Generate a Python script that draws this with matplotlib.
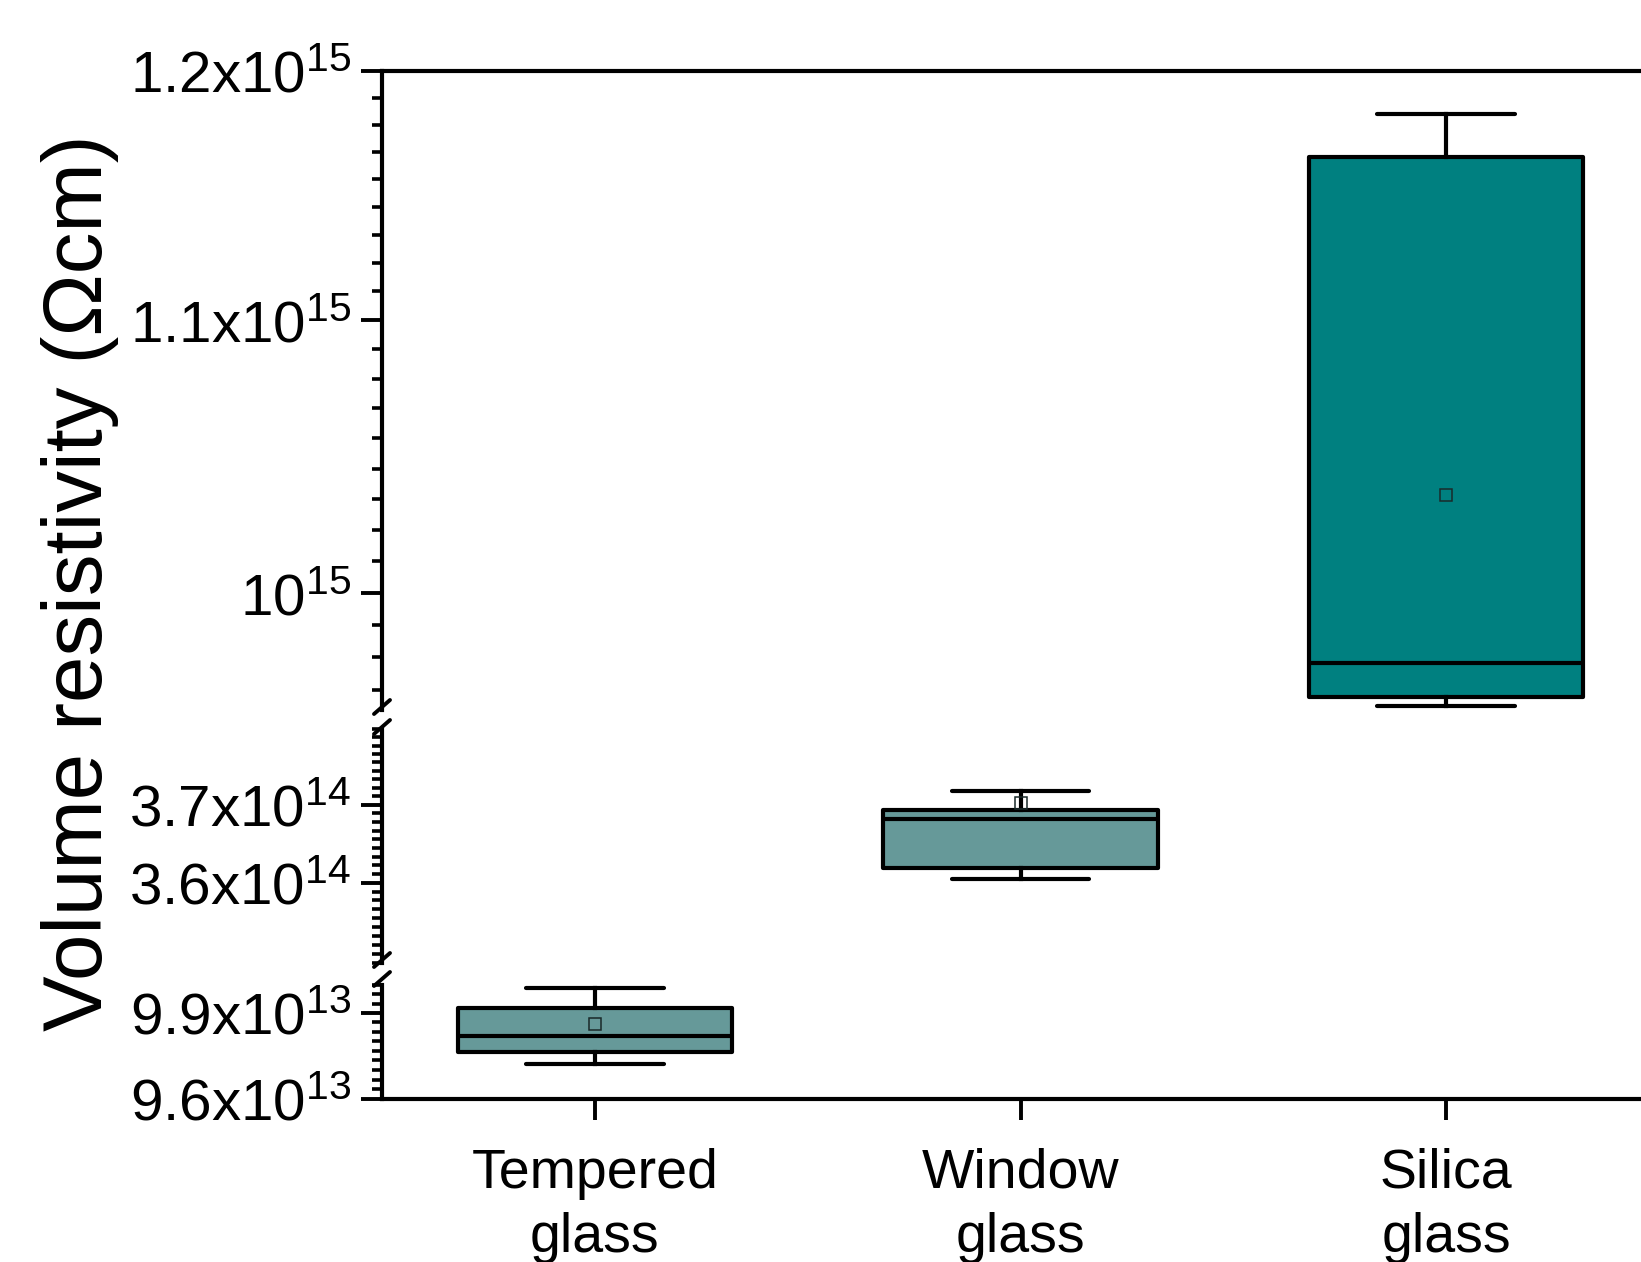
import numpy as np
import matplotlib
matplotlib.use("Agg")
import matplotlib.pyplot as plt
from matplotlib import font_manager
from matplotlib.ticker import FixedLocator, NullFormatter
from matplotlib.lines import Line2D

# box statistics
categories = ["Tempered\nglass", "Window\nglass", "Silica\nglass"]
whislo = [9.721e13, 3.605e14, 9.613e14]
q1 = [9.763e13, 3.619e14, 9.643e14]
med = [9.819e13, 3.682e14, 9.758e14]
q3 = [9.918e13, 3.693e14, 1.1645e15]
whishi = [9.989e13, 3.718e14, 1.182e15]
means = [9.861e13, 3.702e14, 1.0348e15]
fills = ["#669999", "#669999", "#008080"]

# broken y axis: three log segments, top to bottom
seg_limits = [(9.6e14, 1.2e15), (3.5e14, 3.8e14), (9.6e13, 1.0e14)]
seg_major = [[1.0e15, 1.1e15, 1.2e15], [3.6e14, 3.7e14], [9.6e13, 9.9e13]]
seg_labels = [[r"$10^{15}$", r"1.1x10$^{15}$", r"1.2x10$^{15}$"],
              [r"3.6x10$^{14}$", r"3.7x10$^{14}$"],
              [r"9.6x10$^{13}$", r"9.9x10$^{13}$"]]
seg_minor_step = [1e14 / 9, 1e13 / 9, 3e12 / 9]


def has_font(name):
    try:
        font_manager.findfont(font_manager.FontProperties(family=name),
                              fallback_to_default=False)
        return True
    except ValueError:
        return False


plt.rcParams["font.family"] = ["Liberation Sans", "DejaVu Sans"]
plt.rcParams["mathtext.default"] = "regular"

if has_font("Liberation Sans Narrow"):
    tick_family, tick_size = "Liberation Sans Narrow", 53
else:
    tick_family, tick_size = "Liberation Sans", 42

W, H = 1641, 1262
fig = plt.figure(figsize=(W / 100, H / 100), dpi=100)

left_px, right_px = 382, 1659
seg_px = [(71, 710), (729, 963), (985, 1099)]

lw = 3.0
stats = []
for i in range(len(categories)):
    stats.append(dict(whislo=whislo[i], q1=q1[i], med=med[i], q3=q3[i],
                      whishi=whishi[i], mean=means[i], fliers=[]))

axes = []
for k, (ytop, ybot) in enumerate(seg_px):
    ax = fig.add_axes([left_px / W, 1 - ybot / H,
                       (right_px - left_px) / W, (ybot - ytop) / H])
    axes.append(ax)
    ax.set_yscale("log")

    bp = ax.bxp(stats, positions=[1, 2, 3], widths=0.645, capwidths=0.324,
                showmeans=True, patch_artist=True,
                boxprops=dict(linewidth=lw, edgecolor="black", joinstyle="round"),
                medianprops=dict(linewidth=lw, color="black"),
                whiskerprops=dict(linewidth=lw, color="black"),
                capprops=dict(linewidth=lw, color="black", solid_capstyle="round"),
                meanprops=dict(marker="s", markersize=8.5, markerfacecolor="none",
                               markeredgecolor="#1a2a2a", markeredgewidth=1.1))
    for patch, c in zip(bp["boxes"], fills):
        patch.set_facecolor(c)

    lo, hi = seg_limits[k]
    ax.set_ylim(lo, hi)
    ax.set_xlim(0.5, 3.5)

    step = seg_minor_step[k]
    base = seg_major[k][0]
    minors = base + step * np.arange(-40, 200)
    minors = [m for m in minors if lo * 0.9999 <= m <= hi * 1.0001
              and min(abs(m - mj) for mj in seg_major[k]) > step * 0.3]
    ax.yaxis.set_major_locator(FixedLocator(seg_major[k]))
    ax.yaxis.set_minor_locator(FixedLocator(minors))
    ax.yaxis.set_minor_formatter(NullFormatter())
    ax.set_yticks(seg_major[k], seg_labels[k], fontsize=tick_size,
                  fontfamily=tick_family)

    ax.tick_params(axis="y", which="major", direction="out", length=15,
                   width=2.8, pad=7)
    ax.tick_params(axis="y", which="minor", direction="out", length=7.5,
                   width=2.6)

    ax.spines["right"].set_visible(False)
    for s in ax.spines.values():
        s.set_linewidth(lw)
    ax.spines["top"].set_visible(k == 0)
    ax.spines["bottom"].set_visible(k == 2)

    if k == 2:
        ax.set_xticks([1, 2, 3], categories, fontsize=40, linespacing=1.3)
        ax.tick_params(axis="x", direction="out", length=15, width=2.8, pad=20)
    else:
        ax.tick_params(axis="x", which="both", bottom=False, labelbottom=False)

# break marks on the left axis
for yc in [707, 727, 960, 979]:
    fig.add_artist(Line2D([(left_px - 8) / W, (left_px + 8) / W],
                          [1 - (yc + 7) / H, 1 - (yc - 7) / H],
                          transform=fig.transFigure, color="black",
                          linewidth=2.8, solid_capstyle="round"))

fig.text(80 / W, 1 - 583 / H, "Volume resistivity (\u03a9cm)", rotation=90,
         ha="center", va="center", fontsize=60)

fig.savefig("out.png", dpi=100)
